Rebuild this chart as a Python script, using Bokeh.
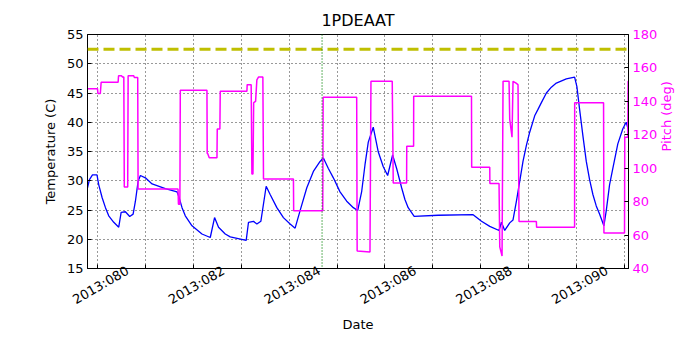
import math
from bokeh.plotting import figure
from bokeh.models import Range1d, LinearAxis, FixedTicker, Span
from bokeh.embed import file_html
from bokeh.resources import INLINE

# ---- data (day of year 2013) ----
temp_day = [79.792, 79.833, 79.896, 79.990, 80.027, 80.098, 80.167, 80.235, 80.340, 80.444,
            80.494, 80.583, 80.673, 80.744, 80.792, 80.848, 80.896, 81.0, 81.140, 81.417,
            81.660, 81.694, 81.765, 81.833, 81.973, 82.181, 82.354, 82.444, 82.527, 82.667,
            82.771, 83.104, 83.152, 83.256, 83.327, 83.410, 83.521, 83.604, 83.744, 83.881,
            84.021, 84.125, 84.229, 84.369, 84.506, 84.646, 84.715, 84.819, 84.923, 85.0625,
            85.202, 85.340, 85.431, 85.515, 85.583, 85.652, 85.756, 85.860, 85.965, 86.056,
            86.160, 86.244, 86.348, 86.417, 86.485, 86.610, 87.110, 87.840, 88.015, 88.1875,
            88.381, 88.431, 88.5, 88.604, 88.673, 88.744, 88.8125, 88.881, 88.952, 89.021,
            89.125, 89.194, 89.265, 89.369, 89.473, 89.577, 89.785, 89.958, 90.006, 90.0625,
            90.131, 90.202, 90.271, 90.340, 90.410, 90.479, 90.569, 90.619, 90.6875, 90.756,
            90.860, 90.965, 91.035, 91.083]
temp_c = [28.8, 30.2, 31.0, 31.0, 29.3, 27.1, 25.4, 24.0, 22.9, 22.06,
          24.6, 24.7, 23.9, 24.3, 26.5, 29.9, 30.9, 30.5, 29.45, 28.67,
          28.1, 27.4, 25.4, 24.0, 22.3, 20.9, 20.3, 23.7, 22.06, 20.9,
          20.4, 19.8, 22.9, 23.07, 22.6, 23.07, 29.06, 27.65, 25.4, 23.7,
          22.6, 21.9, 24.9, 28.8, 31.6, 33.3, 33.9, 32.1, 30.5, 28.1,
          26.5, 25.4, 24.9, 28.2, 32.7, 36.6, 39.15, 34.95, 32.4, 30.9,
          34.4, 32.1, 28.8, 26.8, 25.4, 23.9, 24.1, 24.2, 23.07, 22.2,
          21.5, 22.9, 21.5, 22.8, 23.3, 26.5, 29.9, 33.3, 36.06, 38.3,
          41.1, 42.2, 43.35, 45.0, 46.0, 46.7, 47.4, 47.7, 46.1, 42.2,
          37.7, 33.3, 30.2, 27.65, 25.7, 24.3, 22.3, 24.9, 29.3, 32.1,
          36.3, 38.9, 40.0, 38.6]

pitch_day = [79.792, 80.0, 80.01, 80.06, 80.077, 80.431, 80.44, 80.5, 80.527, 80.55,
             80.56, 80.631, 80.640, 80.756, 80.77, 80.840, 80.848, 81.681, 81.69, 81.72,
             81.729, 82.285, 82.29, 82.30, 82.333, 82.494, 82.50, 82.555, 82.5625, 83.119,
             83.125, 83.208, 83.223, 83.245, 83.26, 83.30, 83.327, 83.36, 83.452, 83.465,
             84.090, 84.095, 84.702, 84.71, 85.410, 85.42, 85.6875, 85.708, 86.152, 86.173,
             86.452, 86.455, 86.598, 86.60, 87.806, 87.81, 88.1875, 88.19, 88.381, 88.396,
             88.444, 88.465, 88.590, 88.604, 88.652, 88.673, 88.729, 88.777, 88.798, 89.160,
             89.165, 89.958, 89.96, 90.5625, 90.57, 91.0, 91.005, 91.069, 91.075, 91.083]
pitch_deg = [147.6, 147.6, 144.7, 144.7, 151.4, 151.4, 155.3, 155.3, 154.5, 154.5,
             88.8, 88.8, 155.3, 155.3, 154.3, 154.3, 87.6, 87.6, 78.4, 78.4,
             146.7, 146.7, 108.8, 108.8, 106.3, 106.3, 123.5, 123.5, 146.1, 146.1,
             150.0, 150.0, 96.5, 96.5, 139.2, 140.0, 152.9, 154.5, 154.5, 93.5,
             93.5, 74.5, 74.5, 142.5, 142.5, 50.4, 49.9, 151.96, 151.96, 91.2,
             91.2, 113.1, 113.1, 143.1, 143.1, 100.6, 100.6, 90.8, 90.8, 52.9,
             47.5, 151.96, 151.96, 129.4, 118.6, 152.0, 151.0, 150.0, 68.05, 68.05,
             64.7, 64.7, 139.2, 139.2, 61.2, 61.2, 118.6, 118.6, 152.0, 152.0]

day_ticks = [80, 81, 82, 83, 84, 85, 86, 87, 88, 89, 90, 91]
label_days = [80, 82, 84, 86, 88, 90]
day_labels = ["2013:080", "2013:082", "2013:084", "2013:086", "2013:088", "2013:090"]
temp_ticks = [15, 20, 25, 30, 35, 40, 45, 50, 55]
pitch_ticks = [40, 60, 80, 100, 120, 140, 160, 180]
limit_temp = 52.5
event_day = 84.6875

FONT = "DejaVu Sans"
MAGENTA = "#ff00ff"
# rotated labels are anchored at their right end in Bokeh; shift anchor so they centre on the tick
label_shift = 0.63
label_pos = [d + label_shift for d in label_days]

p = figure(width=684, height=334,
           x_range=Range1d(min(temp_day[0], pitch_day[0]), max(temp_day[-1], pitch_day[-1])),
           y_range=Range1d(15, 55),
           output_backend="svg", toolbar_location=None, title="1PDEAAT",
           min_border_left=87, min_border_right=55, min_border_top=34, min_border_bottom=62)
p.extra_y_ranges = {"pitch": Range1d(40, 180)}

p.title.align = "center"
p.title.text_font = FONT
p.title.text_font_size = "16px"
p.title.text_font_style = "normal"
p.title.text_color = "black"
p.outline_line_color = "black"
p.outline_line_width = 1
p.background_fill_color = "white"
p.border_fill_color = "white"

xa = p.xaxis[0]
xa.ticker = FixedTicker(ticks=label_pos, minor_ticks=day_ticks)
xa.major_label_overrides = {pos: lab for pos, lab in zip(label_pos, day_labels)}
xa.major_label_orientation = math.pi / 6
xa.axis_label = "Date"

ya = p.yaxis[0]
ya.ticker = FixedTicker(ticks=temp_ticks)
ya.axis_label = "Temperature (C)"

ra = LinearAxis(y_range_name="pitch", ticker=FixedTicker(ticks=pitch_ticks), axis_label="Pitch (deg)")
p.add_layout(ra, "right")

for ax in (xa, ya, ra):
    ax.major_label_text_font = FONT
    ax.major_label_text_font_size = "13px"
    ax.axis_label_text_font = FONT
    ax.axis_label_text_font_size = "13px"
    ax.axis_label_text_font_style = "normal"
    ax.major_tick_in = 4
    ax.major_tick_out = 0
    ax.minor_tick_in = 0
    ax.minor_tick_out = 0
    ax.axis_line_color = "black"
    ax.major_tick_line_color = "black"
    ax.minor_tick_line_color = "black"
    ax.major_label_standoff = 4
    ax.axis_label_standoff = 6
    ax.major_label_text_color = "black"
    ax.axis_label_text_color = "black"
xa.major_tick_in = 0
xa.minor_tick_in = 4
xa.major_label_standoff = 1
xa.axis_label_standoff = 0
ra.major_label_text_color = MAGENTA
ra.axis_label_text_color = MAGENTA
ra.axis_label_orientation = math.pi / 2

p.xgrid.ticker = FixedTicker(ticks=day_ticks)
for g in (p.xgrid, p.ygrid):
    g.grid_line_color = "black"
    g.grid_line_dash = "1 3"
    g.grid_line_width = 1
    g.grid_line_alpha = 0.8

p.add_layout(Span(location=limit_temp, dimension="width", line_color="#bfbf00",
                  line_width=3, line_dash="11 5"))
p.add_layout(Span(location=event_day, dimension="height", line_color="#008000",
                  line_width=1.2, line_dash="1 2"))

p.line(temp_day, temp_c, line_color="#0000ff", line_width=1.3)
p.line(pitch_day, pitch_deg, line_color=MAGENTA, line_width=1.5, y_range_name="pitch")

open("out.html", "w").write(file_html(p, INLINE))
